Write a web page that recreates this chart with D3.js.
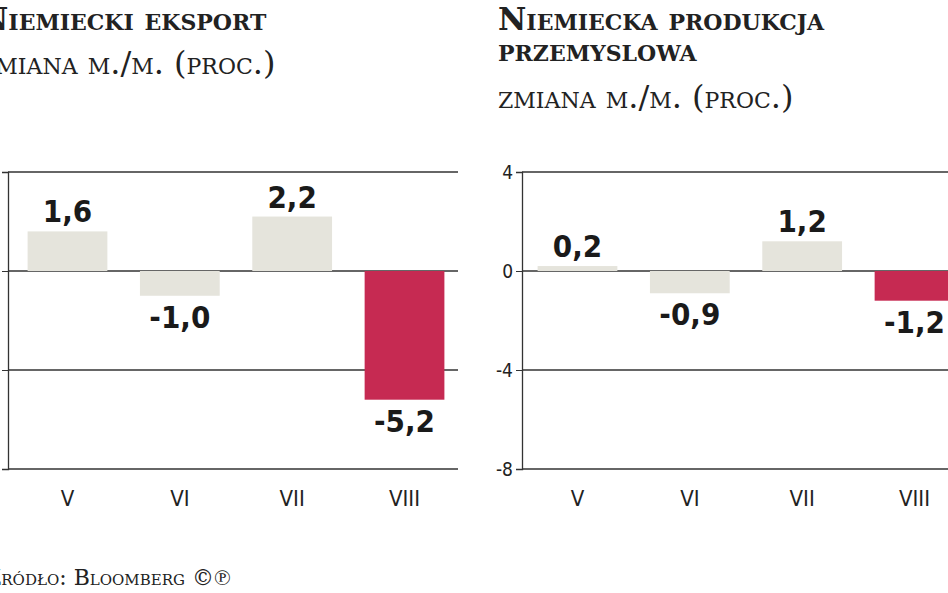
<!DOCTYPE html>
<html><head><meta charset="utf-8">
<script src="https://cdn.jsdelivr.net/npm/d3@7"></script>
<style>body{margin:0;background:#fff;overflow:hidden}</style>
</head><body>
<svg id="c" width="948" height="593"></svg>
<script>
const categories = ["V","VI","VII","VIII"];
const exportValues = [1.6,-1.0,2.2,-5.2];
const productionValues = [0.2,-0.9,1.2,-1.2];
const yTicks = [4,0,-4,-8];
const labels = {
  t1:["Niemiecki eksport"], s1:"zmiana m./m. (proc.)",
  t2:["Niemiecka produkcja","przemyslowa"], s2:"zmiana m./m. (proc.)",
  src:"Źródło: Bloomberg ©℗"
};
const svg = d3.select("#c");
const y = d3.scaleLinear().domain([-8,4]).range([469,172]);
const serif = "'DejaVu Serif','Liberation Serif',serif";
const cond = "'DejaVu Sans Condensed','DejaVu Sans',sans-serif";

function panel(x0, x1, bandStart, values, titleLines, sub, titleX, subY){
  titleLines.forEach((t,i)=>svg.append("text").attr("x",titleX).attr("y",30+i*31)
    .attr("font-family",serif).attr("font-weight","bold").attr("font-size",31)
    .style("font-variant","small-caps").attr("fill","#222").text(t));
  svg.append("text").attr("x",titleX).attr("y",subY).attr("font-family",serif)
    .attr("font-size",32).style("font-variant","small-caps").attr("fill","#222").text(sub);
  const x = d3.scaleBand().domain(categories).range([bandStart,bandStart+446]).paddingInner(0.29).paddingOuter(0.13);
  const g = svg.append("g");
  g.selectAll("line.g").data(yTicks).join("line").attr("x1",x0).attr("x2",x1)
    .attr("y1",d=>y(d)).attr("y2",d=>y(d)).attr("stroke","#333").attr("stroke-width",1.3);
  const ax = svg.append("g").attr("transform",`translate(${x0},0)`)
    .call(d3.axisLeft(y).tickValues(yTicks).tickSize(6).tickFormat(d=>String(d)));
  ax.select(".domain").attr("stroke","#333").attr("stroke-width",1.3);
  ax.selectAll("line").attr("stroke","#333");
  ax.selectAll("text").attr("font-family",cond).attr("font-size",19).attr("fill","#222");
  g.selectAll("rect").data(values).join("rect")
    .attr("x",(d,i)=>x(categories[i])).attr("width",x.bandwidth())
    .attr("y",d=>y(Math.max(0,d))).attr("height",d=>Math.abs(y(d)-y(0)))
    .attr("fill",(d,i)=>i===3?"#c62a52":"#e5e4dc");
  g.selectAll("text.v").data(values).join("text")
    .attr("x",(d,i)=>x(categories[i])+x.bandwidth()/2)
    .attr("y",d=>d>=0?y(d)-9:y(d)+32).attr("text-anchor","middle")
    .attr("font-family",cond).attr("font-weight","bold").attr("font-size",31).attr("fill","#1a1a1a")
    .text(d=>d3.format(".1f")(d).replace(".",",").replace("\u2212","-"));
  g.selectAll("text.c").data(categories).join("text")
    .attr("x",d=>x(d)+x.bandwidth()/2).attr("y",506).attr("text-anchor","middle")
    .attr("font-family",cond).attr("font-size",22).attr("fill","#222").text(d=>d);
}
panel(8,458,13,exportValues,labels.t1,labels.s1,-20,74);
panel(522,960,523,productionValues,labels.t2,labels.s2,498,108);
svg.append("text").attr("x",-14).attr("y",585).attr("font-family",serif).attr("font-size",22)
  .style("font-variant","small-caps").attr("fill","#222").text(labels.src);
</script>
</body></html>
